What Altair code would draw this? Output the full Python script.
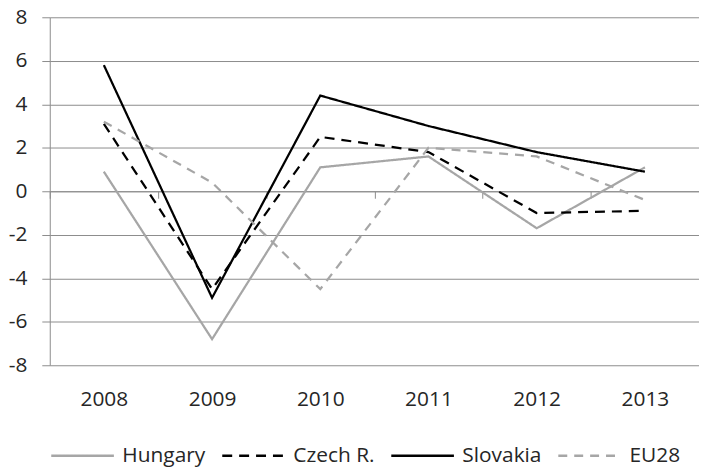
import altair as alt
import pandas as pd

years = ["2008", "2009", "2010", "2011", "2012", "2013"]
hungary = [0.9, -6.8, 1.1, 1.6, -1.7, 1.1]
czech = [3.1, -4.5, 2.5, 1.8, -1.0, -0.9]
slovakia = [5.8, -4.9, 4.4, 3.0, 1.8, 0.9]
eu28 = [3.2, 0.4, -4.5, 2.0, 1.6, -0.4]

series_names = ["Hungary", "Czech R.", "Slovakia", "EU28"]
series_values = [hungary, czech, slovakia, eu28]
series_colors = ["#a6a6a6", "#000000", "#000000", "#a6a6a6"]
series_dashes = [[1, 0], [10, 7], [1, 0], [9, 7]]
y_ticks = [-8, -6, -4, -2, 0, 2, 4, 6, 8]

rows = []
for name, vals in zip(series_names, series_values):
    for yr, v in zip(years, vals):
        rows.append({"year": yr, "series": name, "value": v})
df = pd.DataFrame(rows)

FONT = "Open Sans"
GRID = "#8c8c8c"
TEXT = "#262626"

legend = alt.Legend(
    title=None,
    orient="none",
    legendX=0,
    legendY=408,
    direction="horizontal",
    symbolType="stroke",
    symbolSize=3969,
    symbolStrokeWidth=2.5,
    labelFont=FONT,
    labelFontSize=21,
    labelColor=TEXT,
    labelOffset=7,
    columnPadding=11,
    padding=0,
)

chart = alt.Chart(df).mark_line(strokeWidth=2.25).encode(
    x=alt.X(
        "year:N",
        bandPosition=0.5,
        scale=alt.Scale(type="band", paddingInner=0, paddingOuter=0),
        axis=alt.Axis(
            title=None,
            offset=-175,
            domainColor=GRID,
            domainWidth=1,
            ticks=True,
            tickBand="extent",
            tickSize=7,
            tickColor=GRID,
            labelPadding=191,
            labelFont=FONT,
            labelFontSize=21,
            labelColor=TEXT,
            labelAngle=0,
            grid=False,
        ),
    ),
    y=alt.Y(
        "value:Q",
        scale=alt.Scale(domain=[-8, 8], nice=False),
        axis=alt.Axis(
            title=None,
            values=y_ticks,
            labelExpr="datum.value + ''",
            grid=True,
            gridColor=GRID,
            gridWidth=1,
            domainColor=GRID,
            tickColor=GRID,
            tickSize=8,
            labelPadding=15,
            labelFont=FONT,
            labelFontSize=21,
            labelColor=TEXT,
        ),
    ),
    color=alt.Color(
        "series:N",
        sort=series_names,
        scale=alt.Scale(domain=series_names, range=series_colors),
        legend=legend,
    ),
    strokeDash=alt.StrokeDash(
        "series:N",
        sort=series_names,
        scale=alt.Scale(domain=series_names, range=series_dashes),
        legend=legend,
    ),
).properties(
    width=653,
    height=350,
    padding={"left": 42, "top": 8, "right": 0, "bottom": 101},
    autosize=alt.AutoSizeParams(type="none"),
).configure_view(stroke=None)

chart.save("out.html", embed_options={"renderer": "svg", "actions": False})
